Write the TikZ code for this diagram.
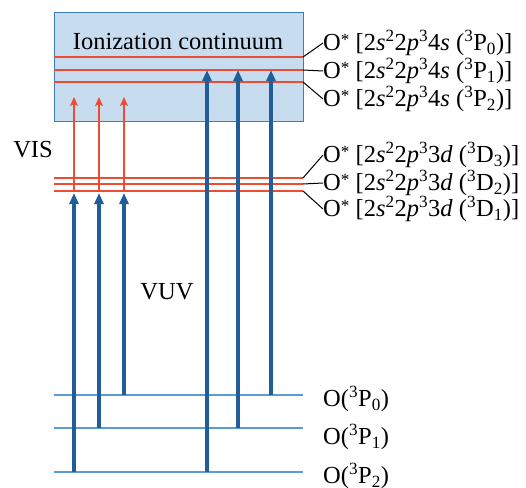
\documentclass[tikz,border=0pt]{standalone}
\usepackage{fontspec}
\setmainfont{Liberation Serif}
\usetikzlibrary{arrows.meta,positioning}
\definecolor{contblue}{HTML}{C8DCF0}
\definecolor{edgeblue}{HTML}{3A7DC0}
\definecolor{redl}{HTML}{EE4B33}
\definecolor{vuvblue}{HTML}{1F5E99}
\definecolor{gndblue}{HTML}{5B9BD5}
\newcommand{\ostar}{O\raisebox{0.45ex}{\scalebox{0.7}{*}}}
\newcommand{\Oexc}[4]{\ostar{} [2\textit{s}\textsuperscript{2}2\textit{p}\textsuperscript{3}#1\textit{#2} (\textsuperscript{3}#3\textsubscript{#4})]}
\newcommand{\Ognd}[1]{O(\textsuperscript{3}P\textsubscript{#1})}

\begin{document}
\begin{tikzpicture}[x=1pt, y=-1pt,
  txt/.style={font=\rmfamily\fontsize{24.5}{28}\selectfont, inner sep=0pt},
  lvl/.style={txt, anchor=west},
  lev/.style={line width=1.8pt, draw=redl},
  gnd/.style={line width=1.3pt, draw=gndblue},
  uv/.style={-{Triangle[length=11pt,width=9pt]}, line width=3.5pt, draw=vuvblue},
  vis/.style={-{Stealth[length=9pt,width=8pt,inset=2pt]}, line width=1.4pt, draw=redl},
  tick/.style={line width=1pt, black}]
\useasboundingbox (0,0) rectangle (526,487);
% continuum box
\node[draw=edgeblue, fill=contblue, line width=1.2pt, minimum width=249pt, minimum height=109pt,
  inner sep=0pt, anchor=north west] (box) at (54,12) {};
\node[txt] (ion) at (178,42) {Ionization continuum};
% levels
\foreach \y/\n in {57/p0,70/p1,82/p2,178/d3,184/d2,191/d1}
  {\coordinate (\n) at (303,\y); \draw[lev] (54,\y) -- (\n);}
\foreach \y/\n in {395/g0,428/g1,472/g2}
  {\coordinate (\n) at (303,\y); \draw[gnd] (54,\y) -- (\n);}
% transitions
\foreach \x in {74,99,124} \draw[vis] (\x,191) -- (\x,97);
\foreach \x/\y in {74/472,99/428,124/395} \draw[uv] (\x,\y) -- (\x,193);
\foreach \x/\y in {207/472,238/428,271/395} \draw[uv] (\x,\y) -- (\x,70);
% labels
\node[lvl] (p0lab) at (323,43) {\Oexc{4}{s}{P}{0}};
\node[lvl] (p1lab) at (323,71) {\Oexc{4}{s}{P}{1}};
\node[lvl] (p2lab) at (323,99) {\Oexc{4}{s}{P}{2}};
\node[lvl] (d3lab) at (323,155) {\Oexc{3}{d}{D}{3}};
\node[lvl] (d2lab) at (323,183) {\Oexc{3}{d}{D}{2}};
\node[lvl] (d1lab) at (323,209) {\Oexc{3}{d}{D}{1}};
\foreach \n in {p0,p1,p2,d3,d2,d1} \draw[tick] (\n) -- (\n lab.west);
\node[lvl] (g0lab) at (323,399) {\Ognd{0}};
\node[lvl] (g1lab) at (323,437) {\Ognd{1}};
\node[lvl] (g2lab) at (323,476) {\Ognd{2}};
\node[txt] (vis) at (33,150) {VIS};
\node[txt] (vuv) at (167,292) {VUV};
\end{tikzpicture}
\end{document}
